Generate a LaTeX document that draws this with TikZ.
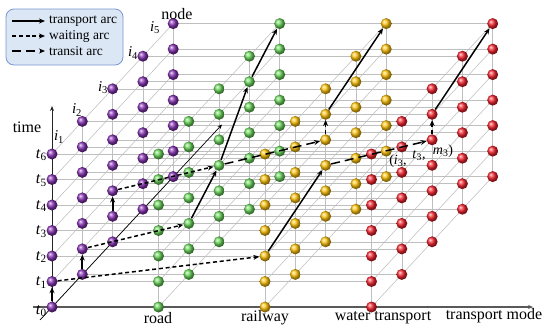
\documentclass[tikz,border=0pt]{standalone}
\usepackage{fontspec}
\setmainfont{Liberation Serif}
\usetikzlibrary{arrows.meta}
\definecolor{cpurple}{RGB}{135,50,180}
\definecolor{cgreen}{RGB}{105,215,90}
\definecolor{cyellow}{RGB}{255,195,10}
\definecolor{cred}{RGB}{245,35,45}
\definecolor{legfill}{RGB}{220,231,245}
\definecolor{legdraw}{RGB}{120,150,210}
\begin{document}
\begin{tikzpicture}[x=1pt,y=-1pt,
  gridline/.style={draw=black!25, line width=0.55pt},
  mball/.style={circle, inner sep=0pt, minimum size=11pt, ball color=#1},
  arc/.style={line width=1.5pt, -{Stealth[length=6pt,width=5pt]}},
  transport/.style={arc},
  waiting/.style={arc, dash pattern=on 4pt off 2.8pt},
  transit/.style={arc, dash pattern=on 9pt off 5pt},
  lbl/.style={font=\fontsize{16}{18}\selectfont, inner sep=0pt},
  ilbl/.style={font=\fontsize{15}{17}\selectfont, inner sep=0pt},
  plbl/.style={font=\fontsize{14}{16}\selectfont, inner sep=0pt},
  leglbl/.style={font=\fontsize{13.5}{15}\selectfont, inner sep=0pt, anchor=west}]
\useasboundingbox (0,0) rectangle (550,330);

% lattice coordinates
\foreach \m in {0,...,3}
  \foreach \i in {1,...,5}
    \foreach \t in {0,...,6}
      \coordinate (c-\m-\i-\t) at ({52+106.5*\m+30.3*(\i-1)}, {307-32.6*(\i-1)-25.5*\t});

% grid
\foreach \i in {1,...,5}
  \foreach \t in {0,...,6}
    \draw[gridline] (c-0-\i-\t) -- (c-3-\i-\t);
\foreach \m in {0,...,3}
  \foreach \i in {1,...,5}
    \draw[gridline] (c-\m-\i-0) -- (c-\m-\i-6);
\foreach \m in {0,...,3}
  \foreach \t in {0,...,6}
    \draw[gridline] (c-\m-1-\t) -- (c-\m-5-\t);

% axes
\coordinate (mx0) at (33,307);
\coordinate (mx1) at (533,307);
\draw[black!65, line width=1.4pt, -{Stealth[length=5pt,width=4pt]}] (mx0) -- (mx1);
\coordinate (tax) at (52,106);
\draw[black!85, line width=1pt, -{Stealth[length=5pt,width=4pt]}] (c-0-1-0) -- (tax);
\coordinate (nx0) at (40,320);
\coordinate (nx1) at (222,124.5);
\draw[black, line width=0.7pt, -{Stealth[length=4.5pt,width=4pt]}] (nx0) -- (nx1);

% balls
\foreach \m/\col in {0/cpurple,1/cgreen,2/cyellow,3/cred}
  \foreach \i in {5,4,3,2,1}
    \foreach \t in {0,...,6}
      \node[mball=\col] (n-\m-\i-\t) at (c-\m-\i-\t) {};

% arcs
\draw[transport, line width=1.8pt] (n-0-1-0) -- (n-0-1-1);
\draw[transport, line width=1.8pt] (n-0-2-0) -- (n-0-2-1);
\draw[transport, line width=1.8pt] (n-0-3-1) -- (n-0-3-2);
\draw[waiting] (n-0-1-1) -- (n-2-1-2);
\draw[waiting] (n-0-2-1) -- (n-1-2-2);
\draw[waiting] (n-0-3-2) -- (n-1-3-3);
\draw[transport] (n-1-2-2) -- (n-1-3-3);
\draw[transport] (n-1-3-3) -- (n-1-4-5);
\draw[transport] (n-1-4-5) -- (n-1-5-6);
\draw[transit] (n-1-3-3) -- (n-2-3-4);
\draw[waiting] (n-2-3-4) -- (n-2-3-5);
\draw[transport] (n-2-3-5) -- (n-2-5-6);
\draw[transport] (n-2-1-2) -- (n-2-3-3);
\draw[transit] (n-2-3-3) -- (n-3-3-4);
\draw[waiting] (n-3-3-4) -- (n-3-3-5);
\draw[transport] (n-3-3-5) -- (n-3-5-6);

% labels
\node[lbl, anchor=east] (tl-0) at ([xshift=-5pt,yshift=-4pt]c-0-1-0) {\textit{t}\textsubscript{0}};
\foreach \t in {1,...,6}
  \node[lbl, anchor=east] (tl-\t) at ([xshift=-5pt,yshift=-1pt]c-0-1-\t) {\textit{t}\textsubscript{\t}};
\node[lbl] (timelbl) at (27,127) {time};
\node[lbl] (nodelbl) at (177,14) {node};
\node[ilbl] (il1) at (59,137) {\textit{i}\textsubscript{1}};
\node[ilbl] (il2) at (77,110) {\textit{i}\textsubscript{2}};
\node[ilbl] (il3) at (103,88) {\textit{i}\textsubscript{3}};
\node[ilbl] (il4) at (133,53) {\textit{i}\textsubscript{4}};
\node[ilbl] (il5) at (155,28) {\textit{i}\textsubscript{5}};
\node[lbl] (road) at (158,318) {road};
\node[lbl] (rail) at (265,318) {railway};
\node[lbl] (water) at (383,318) {water transport};
\node[lbl] (tmode) at (494,316) {transport mode};
\node[plbl] (labA) at (398,161) {(\textit{i}\textsubscript{3},};
\node[plbl] (labB) at (419,156) {\textit{t}\textsubscript{3},};
\node[plbl] (labC) at (443,151) {\textit{m}\textsubscript{3})};

% legend
\node[draw=legdraw, fill=legfill, rounded corners=8pt, line width=0.8pt,
  minimum width=117pt, minimum height=56pt, inner sep=0pt] (legend) at (64.5,37) {};
\coordinate (la1) at (12,21); \coordinate (lb1) at (45,21);
\coordinate (la2) at (12,36); \coordinate (lb2) at (45,36);
\coordinate (la3) at (12,51); \coordinate (lb3) at (45,51);
\draw[transport, line width=1.1pt] (la1) -- (lb1);
\draw[waiting, line width=1.1pt] (la2) -- (lb2);
\draw[transit, line width=1.1pt] (la3) -- (lb3);
\node[leglbl] (lt1) at (49,21) {transport arc};
\node[leglbl] (lt2) at (49,36) {waiting arc};
\node[leglbl] (lt3) at (49,51) {transit arc};
\end{tikzpicture}
\end{document}
